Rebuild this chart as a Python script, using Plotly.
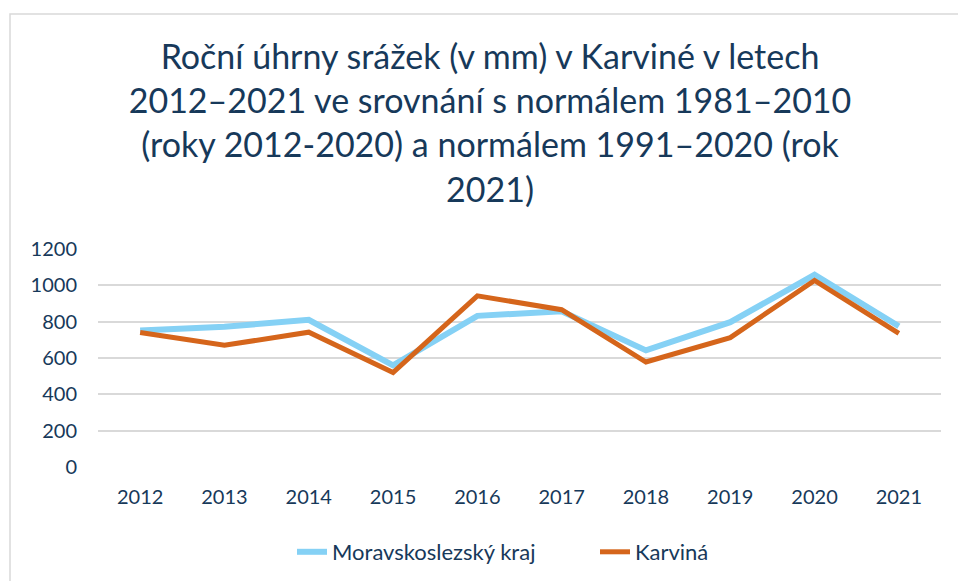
import plotly.graph_objects as go

years = ["2012", "2013", "2014", "2015", "2016", "2017", "2018", "2019", "2020", "2021"]
msk = [752, 772, 810, 560, 832, 857, 642, 797, 1058, 775]
karvina = [740, 670, 742, 520, 942, 866, 578, 712, 1027, 735]
series_names = ["Moravskoslezský kraj", "Karviná"]
title_lines = [
    "Roční úhrny srážek (v mm) v Karviné v letech",
    "2012–2021 ve srovnání s normálem 1981–2010",
    "(roky 2012-2020) a normálem 1991–2020 (rok",
    "2021)",
]
y_ticks = [0, 200, 400, 600, 800, 1000, 1200]

TXT = "#17395A"
FONT = "Lato, 'Open Sans', sans-serif"

W, H = 958, 581
ML, MR, MT, MB = 98, 17, 249, 114
PW, PH = W - ML - MR, H - MT - MB

def px_x(px):
    return (px - ML) / PW

def px_y(py):
    return (H - MB - py) / PH

fig = go.Figure()
fig.add_trace(go.Scatter(x=years, y=msk, mode="lines", name=series_names[0],
                         line=dict(color="#85D1F5", width=6)))
fig.add_trace(go.Scatter(x=years, y=karvina, mode="lines", name=series_names[1],
                         line=dict(color="#D5651B", width=5)))

fig.update_layout(
    width=W, height=H,
    margin=dict(l=ML, r=MR, t=MT, b=MB),
    paper_bgcolor="white", plot_bgcolor="white",
    font=dict(family=FONT, color=TXT),
    title=dict(text="<br>".join(title_lines), x=490 / W, xanchor="center",
               y=1 - 69 / H, yanchor="top", xref="container", yref="container",
               font=dict(size=34, color=TXT, family=FONT)),
    xaxis=dict(type="category", range=[-0.5, 9.5], showgrid=False, zeroline=False,
               showline=False, ticks="", tickfont=dict(size=20, color=TXT),
               ticklabelstandoff=16),
    yaxis=dict(range=[0, 1200], tickvals=y_ticks, showgrid=True, gridcolor="#D9D9D9",
               gridwidth=1.5, zeroline=False, showline=False, ticks="",
               tickfont=dict(size=20, color=TXT), ticklabelstandoff=20),
    legend=dict(orientation="h", x=292 / W, xref="container", xanchor="left",
                y=1 - 552 / H, yref="container", yanchor="middle",
                font=dict(size=22, color=TXT), itemwidth=30, tracegroupgap=0,
                entrywidth=258, entrywidthmode="pixels"),
    shapes=[dict(type="rect", xref="paper", yref="paper",
                 x0=px_x(10), x1=px_x(970), y0=px_y(14), y1=px_y(600),
                 line=dict(color="#D9D9D9", width=1.5), layer="below")],
)

fig.write_html("out.html", config={"displayModeBar": False},
               post_script="document.body.style.margin='0';document.body.style.overflow='hidden';")
